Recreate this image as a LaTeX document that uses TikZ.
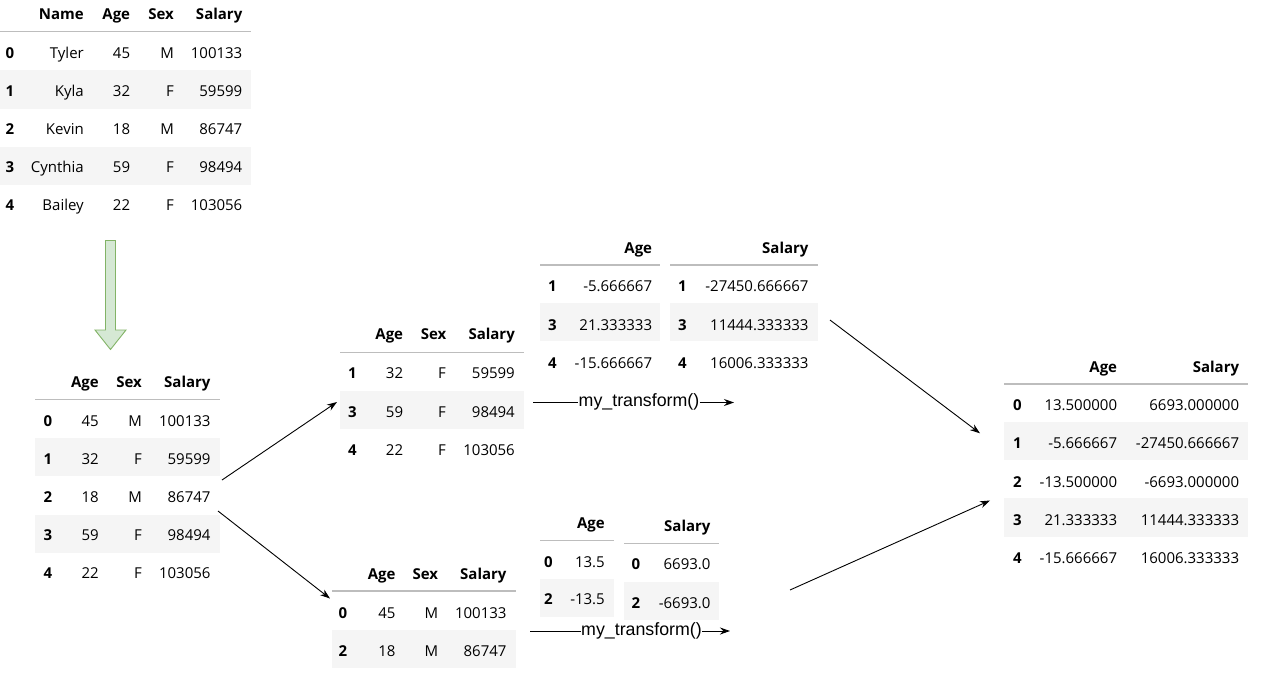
\documentclass[tikz,border=0pt]{standalone}
\usepackage{fontspec}
\setmainfont{Open Sans}
\newfontfamily\labelfont{Liberation Sans}
\usetikzlibrary{arrows.meta}
\definecolor{bandc}{HTML}{F5F5F5}
\definecolor{rulec}{HTML}{BDBDBD}
\definecolor{gfill}{HTML}{D5E8D4}
\definecolor{gline}{HTML}{82B366}
\begin{document}
\begin{tikzpicture}[x=1pt,y=-1pt,
  font=\fontsize{15}{18}\selectfont,
  val/.style={anchor=base east, inner sep=0pt, yshift=-5.4pt},
  idx/.style={anchor=base, inner sep=0pt, yshift=-5.4pt, font=\fontsize{15}{18}\selectfont\bfseries},
  hdr/.style={val, font=\fontsize{15}{18}\selectfont\bfseries},
  bandbox/.style={fill=bandc, draw=none},
  hrule/.style={draw=rulec, line width=1.3pt},
  conn/.style={draw=black, line width=0.9pt, -{Stealth[length=10pt,width=7pt]}},
  plainline/.style={draw=black, line width=0.9pt},
  tlabel/.style={font=\labelfont\fontsize{17.8}{20}\selectfont, inner sep=0pt, anchor=base},
  bigarrow/.style={fill=gfill, draw=gline, line width=0.9pt}]
\useasboundingbox (0,0) rectangle (1262,673);

% ---------- Table 1 (original) ----------
\fill[bandbox] (0,70) rectangle (251,109);
\fill[bandbox] (0,147) rectangle (251,185);
\draw[hrule] (0,31.7) -- (251,31.7);
\node[hdr] (t1hName) at (84,14) {Name};
\node[hdr] (t1hAge) at (130.3,14) {Age};
\node[hdr] (t1hSex) at (174,14) {Sex};
\node[hdr] (t1hSal) at (242.5,14) {Salary};
\foreach \r/\y/\n/\a/\s/\m in {0/52.7/Tyler/45/M/100133, 1/91/Kyla/32/F/59599, 2/129.3/Kevin/18/M/86747, 3/167.3/Cynthia/59/F/98494, 4/205.3/Bailey/22/F/103056} {
  \node[idx] (t1i\r) at (10,\y) {\r};
  \node[val] (t1n\r) at (84,\y) {\n};
  \node[val] (t1a\r) at (130.3,\y) {\a};
  \node[val] (t1s\r) at (174,\y) {\s};
  \node[val] (t1m\r) at (242.5,\y) {\m};
}

% ---------- green arrow ----------
\draw[bigarrow] (105.5,240.5) -- (115.5,240.5) -- (115.5,330) -- (126,330) -- (110.5,349.5) -- (95,330) -- (105.5,330) -- cycle;

% ---------- Table 2 ----------
\fill[bandbox] (35.3,438.3) rectangle (219.7,476);
\fill[bandbox] (35.3,515) rectangle (219.7,552.7);
\draw[hrule] (35.3,399.3) -- (219.7,399.3);
\node[hdr] (t2hAge) at (99,382) {Age};
\node[hdr] (t2hSex) at (142,382) {Sex};
\node[hdr] (t2hSal) at (210.7,382) {Salary};
\foreach \r/\y/\a/\s/\m in {0/420.7/45/M/100133, 1/459/32/F/59599, 2/497/18/M/86747, 3/535/59/F/98494, 4/573.3/22/F/103056} {
  \node[idx] (t2i\r) at (48,\y) {\r};
  \node[val] (t2a\r) at (99,\y) {\a};
  \node[val] (t2s\r) at (142,\y) {\s};
  \node[val] (t2m\r) at (210.7,\y) {\m};
}

% ---------- Table 3 (F group) ----------
\fill[bandbox] (340,391) rectangle (524,428.7);
\draw[hrule] (340,352.3) -- (524,352.3);
\node[hdr] (t3hAge) at (403.3,334) {Age};
\node[hdr] (t3hSex) at (446.5,334) {Sex};
\node[hdr] (t3hSal) at (515,334) {Salary};
\foreach \r/\y/\a/\s/\m in {1/373.3/32/F/59599, 3/411.7/59/F/98494, 4/449.7/22/F/103056} {
  \node[idx] (t3i\r) at (352.3,\y) {\r};
  \node[val] (t3a\r) at (403.3,\y) {\a};
  \node[val] (t3s\r) at (446,\y) {\s};
  \node[val] (t3m\r) at (515,\y) {\m};
}

% ---------- Table 4 (M group) ----------
\fill[bandbox] (332,630) rectangle (516,668);
\draw[hrule] (332,591) -- (516,591);
\node[hdr] (t4hAge) at (395.7,574) {Age};
\node[hdr] (t4hSex) at (438.3,574) {Sex};
\node[hdr] (t4hSal) at (506.7,574) {Salary};
\foreach \r/\y/\a/\s/\m in {0/612.7/45/M/100133, 2/650.7/18/M/86747} {
  \node[idx] (t4i\r) at (343,\y) {\r};
  \node[val] (t4a\r) at (395.7,\y) {\a};
  \node[val] (t4s\r) at (438.3,\y) {\s};
  \node[val] (t4m\r) at (506.7,\y) {\m};
}

% ---------- Table 5 (Age, F) ----------
\fill[bandbox] (540,303.3) rectangle (660,341);
\draw[hrule] (540,265) -- (660,265);
\node[hdr] (t5hAge) at (652.3,247.7) {Age};
\foreach \r/\y/\a in {1/286/-5.666667, 3/324.7/21.333333, 4/363/-15.666667} {
  \node[idx] (t5i\r) at (552.3,\y) {\r};
  \node[val] (t5a\r) at (652.3,\y) {\a};
}

% ---------- Table 6 (Salary, F) ----------
\fill[bandbox] (670,303.3) rectangle (818,341);
\draw[hrule] (670,265) -- (818,265);
\node[hdr] (t6hSal) at (808.7,247.7) {Salary};
\foreach \r/\y/\m in {1/286/-27450.666667, 3/324.7/11444.333333, 4/363/16006.333333} {
  \node[idx] (t6i\r) at (682.3,\y) {\r};
  \node[val] (t6m\r) at (808.7,\y) {\m};
}

% ---------- Table 7 (Age, M) ----------
\fill[bandbox] (540,579) rectangle (614,616.7);
\draw[hrule] (540,540.7) -- (614,540.7);
\node[hdr] (t7hAge) at (605,523.3) {Age};
\foreach \r/\y/\a in {0/561.7/13.5, 2/599.3/-13.5} {
  \node[idx] (t7i\r) at (548.3,\y) {\r};
  \node[val] (t7a\r) at (605,\y) {\a};
}

% ---------- Table 8 (Salary, M) ----------
\fill[bandbox] (624,581.7) rectangle (719,620);
\draw[hrule] (624,543.3) -- (719,543.3);
\node[hdr] (t8hSal) at (710.7,526) {Salary};
\foreach \r/\y/\m in {0/564.3/6693.0, 2/602.7/-6693.0} {
  \node[idx] (t8i\r) at (636,\y) {\r};
  \node[val] (t8m\r) at (710.7,\y) {\m};
}

% ---------- Table 9 (result) ----------
\fill[bandbox] (1004,422.3) rectangle (1248,460);
\fill[bandbox] (1004,498.3) rectangle (1248,536.7);
\draw[hrule] (1004,384) -- (1248,384);
\node[hdr] (t9hAge) at (1117.3,366.7) {Age};
\node[hdr] (t9hSal) at (1239.3,366.7) {Salary};
\foreach \r/\y/\a/\m in {0/405/13.500000/6693.000000, 1/443.3/-5.666667/-27450.666667, 2/481.7/-13.500000/-6693.000000, 3/519.7/21.333333/11444.333333, 4/558.3/-15.666667/16006.333333} {
  \node[idx] (t9i\r) at (1017.3,\y) {\r};
  \node[val] (t9a\r) at (1117.3,\y) {\a};
  \node[val] (t9m\r) at (1239.3,\y) {\m};
}

% ---------- my_transform() labels ----------
\coordinate (mt1s) at (533,402.5);
\coordinate (mt1e) at (734,402.5);
\node[tlabel] (mt1) at (639,406.8) {my\_transform()};
\draw[plainline] (mt1s) -- (mt1.west |- mt1s);
\draw[conn] (mt1.east |- mt1e) -- (mt1e);

\coordinate (mt2s) at (530,631);
\coordinate (mt2e) at (730,631);
\node[tlabel] (mt2) at (641.5,635.3) {my\_transform()};
\draw[plainline] (mt2s) -- (mt2.west |- mt2s);
\draw[conn] (mt2.east |- mt2e) -- (mt2e);

% ---------- split / combine arrows ----------
\coordinate (s1s) at (222,480);
\coordinate (s1e) at (337,402);
\coordinate (s2s) at (218,511);
\coordinate (s2e) at (330,598.5);
\coordinate (c1s) at (830,320);
\coordinate (c1e) at (980,433.3);
\coordinate (c2s) at (790,590);
\coordinate (c2e) at (990,500.5);
\draw[conn] (s1s) -- (s1e);
\draw[conn] (s2s) -- (s2e);
\draw[conn] (c1s) -- (c1e);
\draw[conn] (c2s) -- (c2e);
\end{tikzpicture}
\end{document}
